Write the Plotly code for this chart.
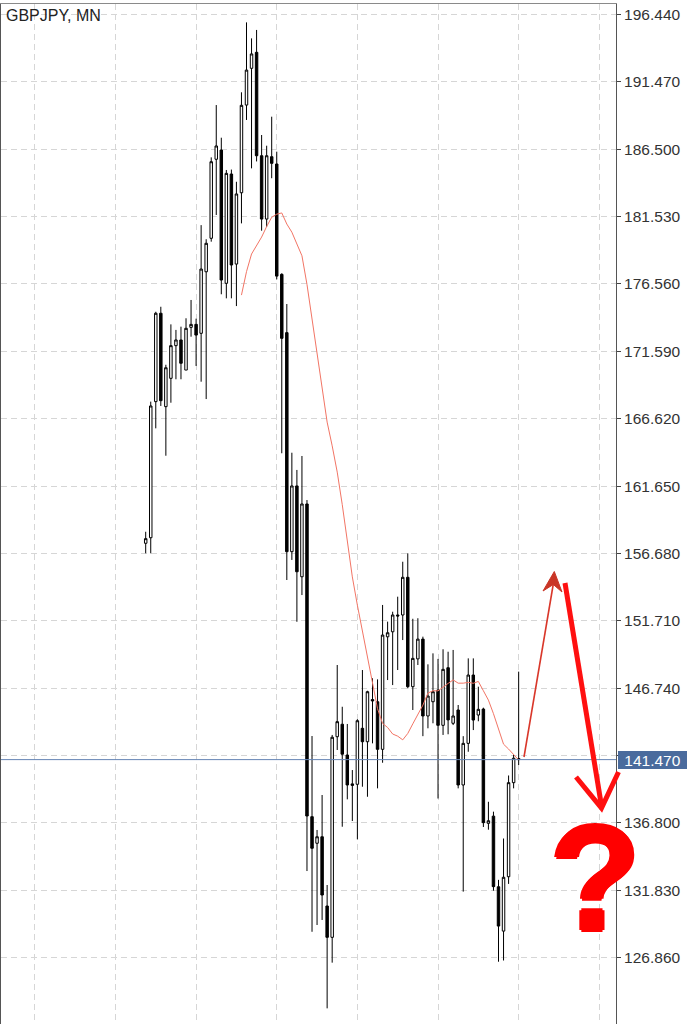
import plotly.graph_objects as go
import pandas as pd

# ---------------- data ----------------
symbol_title = "GBPJPY, MN"
months = [d.strftime("%Y-%m") for d in pd.date_range("2013-10-01", periods=75, freq="MS")]

opens = [157.43, 157.84, 167.88, 174.40, 167.51, 169.60, 172.01, 172.43, 170.21, 173.36,
         173.58, 172.92, 177.46, 179.93, 185.76, 186.44, 176.61, 184.67, 178.03, 183.29,
         189.76, 192.47, 193.65, 186.02, 181.35, 185.95, 185.41, 177.27, 172.97, 156.81,
         161.66, 154.96, 160.33, 137.26, 135.30, 135.78, 130.67, 128.36, 143.16, 144.08,
         141.81, 139.68, 139.65, 143.78, 142.79, 145.90, 145.74, 142.23, 150.53, 150.90,
         152.14, 152.14, 154.92, 146.85, 148.90, 150.36, 144.69, 145.74, 146.60, 144.00,
         148.25, 144.15, 145.13, 139.60, 142.67, 147.71, 144.76, 145.20, 136.77, 137.30,
         132.09, 128.82, 132.83, 139.77, 141.55]
highs = [158.28, 167.88, 174.51, 174.88, 170.60, 173.58, 173.17, 173.41, 174.03, 175.38,
         174.00, 180.90, 179.86, 185.90, 189.76, 187.35, 184.97, 185.00, 184.10, 190.70,
         195.86, 194.68, 195.30, 187.55, 186.76, 188.90, 186.32, 177.35, 175.08, 164.11,
         162.84, 163.87, 160.62, 143.21, 136.28, 138.86, 132.22, 143.29, 148.45, 145.37,
         144.10, 140.70, 144.45, 148.08, 146.55, 147.47, 147.39, 152.88, 151.65, 152.38,
         153.49, 156.07, 156.69, 151.86, 151.90, 150.54, 148.50, 149.31, 148.90, 149.61,
         149.43, 149.56, 145.50, 143.20, 148.94, 148.94, 146.85, 145.30, 138.36, 137.63,
         132.60, 135.65, 140.30, 141.81, 147.96]
lows = [156.69, 156.69, 165.91, 167.56, 163.89, 167.80, 169.53, 169.53, 170.21, 172.67,
        170.51, 169.35, 168.07, 179.68, 181.65, 175.80, 175.50, 175.50, 174.93, 181.03,
        188.66, 185.09, 185.60, 180.49, 180.78, 184.36, 176.90, 164.07, 154.72, 156.20,
        151.64, 153.61, 133.25, 128.77, 129.27, 129.64, 123.12, 126.49, 142.18, 136.52,
        138.54, 136.94, 135.59, 139.47, 138.73, 142.67, 139.35, 141.24, 147.34, 146.97,
        148.08, 150.29, 146.73, 145.13, 148.45, 143.20, 143.78, 144.15, 138.60, 143.29,
        143.34, 144.02, 139.35, 131.73, 142.05, 143.65, 144.30, 136.50, 136.30, 131.80,
        126.56, 126.65, 132.30, 139.35, 141.07]
closes = [157.77, 167.56, 174.40, 167.95, 170.38, 172.01, 172.43, 170.71, 173.29, 173.58,
          172.79, 177.66, 179.56, 185.58, 186.74, 176.85, 184.72, 177.96, 183.20, 189.74,
          192.34, 193.53, 186.02, 181.35, 186.02, 185.46, 177.14, 172.55, 156.81, 161.66,
          155.33, 160.33, 137.31, 134.93, 135.78, 131.48, 128.36, 143.12, 144.27, 141.87,
          139.60, 139.57, 144.34, 142.79, 146.48, 145.80, 142.23, 150.66, 150.83, 152.14,
          152.07, 154.92, 146.85, 148.94, 150.36, 144.69, 146.16, 146.48, 144.00, 148.13,
          144.40, 144.69, 139.60, 142.67, 147.71, 144.39, 145.18, 136.82, 136.96, 132.10,
          129.19, 132.79, 139.77, 141.57, 141.47]

# moving average line (from bar 19 on)
ma_start = 19
ma_values = [175.74, 177.47, 178.77, 179.35, 180.02, 180.80, 181.48, 181.71, 181.80, 180.98,
             180.38, 179.51, 178.64, 176.53, 174.00, 171.45, 169.18, 166.37, 164.62, 162.68,
             160.28, 157.65, 154.95, 152.86, 150.94, 148.96, 146.98, 145.23, 144.14, 143.84,
             143.36, 143.20, 142.93, 143.40, 144.11, 144.83, 145.49, 146.38, 146.55, 146.54,
             146.85, 147.09, 147.35, 147.11, 147.11, 147.17, 147.10, 147.24, 146.55, 145.86,
             144.86, 143.71, 142.61, 142.25, 141.88, 141.44]

current_price = 141.47
price_label = "141.470"
y_ticks = [196.44, 191.47, 186.50, 181.53, 176.56, 171.59, 166.62, 161.65, 156.68,
           151.71, 146.74, 141.77, 136.80, 131.83, 126.86]
y_ticktext = ["196.440", "191.470", "186.500", "181.530", "176.560", "171.590", "166.620",
              "161.650", "156.680", "151.710", "146.740", "", "136.800", "131.830", "126.860"]
x_grid_bars = [-22, -6, 10, 26, 42, 58, 74, 90]

# ---------------- layout helpers ----------------
W, H = 698, 1024
ML, MR, MT, MB = 1, 82, 4, 0
PW, PH = W - ML - MR, H - MT - MB


def P(px, py):
    return (px - ML) / PW, (H - MB - py) / PH


idx = list(range(len(closes)))

fig = go.Figure()
fig.add_trace(go.Candlestick(
    x=idx, open=opens, high=highs, low=lows, close=closes,
    customdata=months,
    increasing=dict(line=dict(color="#000000", width=1), fillcolor="#ffffff"),
    decreasing=dict(line=dict(color="#000000", width=1), fillcolor="#000000"),
    whiskerwidth=0, showlegend=False, hoverinfo="skip"))
fig.add_trace(go.Scatter(
    x=idx[ma_start:], y=ma_values, mode="lines",
    line=dict(color="#f27565", width=1), showlegend=False, hoverinfo="skip"))

shapes = []
# current price line
shapes.append(dict(type="line", xref="paper", yref="y", x0=0, x1=1,
                   y0=current_price, y1=current_price,
                   line=dict(color="#6584b4", width=1), layer="above"))

# thin red arrow (up)
x0, y0 = P(524, 757)
x1, y1 = P(553.3, 584)
shapes.append(dict(type="line", xref="paper", yref="paper", x0=x0, y0=y0, x1=x1, y1=y1,
                   line=dict(color="#d9372a", width=1.6)))
hp = [P(554.3, 571.5), P(543.0, 591.0), P(553.3, 584.5), P(562.0, 592.0)]
path = "M{},{} L{},{} L{},{} L{},{} Z".format(*[c for pt in hp for c in pt])
shapes.append(dict(type="path", xref="paper", yref="paper", path=path,
                   fillcolor="#c93526", line=dict(color="#c93526", width=1)))

# thick red arrow (down)
x0, y0 = P(565, 583)
x1, y1 = P(601.5, 806)
shapes.append(dict(type="line", xref="paper", yref="paper", x0=x0, y0=y0, x1=x1, y1=y1,
                   line=dict(color="#ff1010", width=5)))
vp = [P(576, 777), P(601.5, 808), P(618.5, 772)]
path = "M{},{} L{},{} L{},{}".format(*[c for pt in vp for c in pt])
shapes.append(dict(type="path", xref="paper", yref="paper", path=path,
                   line=dict(color="#ff1010", width=5)))

annotations = []
tx, ty = P(4, 5)
annotations.append(dict(text=symbol_title, xref="paper", yref="paper", x=tx, y=ty,
                        xanchor="left", yanchor="top", showarrow=False,
                        font=dict(family="Liberation Sans, Arial", size=16, color="#222222")))
annotations.append(dict(text=price_label, xref="paper", yref="y", x=1, y=current_price,
                        xanchor="left", yanchor="middle", xshift=2, showarrow=False,
                        width=69, height=18, borderpad=0, borderwidth=0,
                        bgcolor="#4a6b9d",
                        font=dict(family="Liberation Sans, Arial", size=15.5, color="#ffffff")))
qx, qy = P(595, 878)
annotations.append(dict(text="<b>?</b>", xref="paper", yref="paper", x=qx, y=qy,
                        xanchor="center", yanchor="middle", showarrow=False,
                        width=84, height=116, borderpad=0, borderwidth=0,
                        font=dict(family="Liberation Sans, Arial", size=150, color="#ff0000",
                                  shadow="2px 0 0 #ff0000, -2px 0 0 #ff0000, 0 2px 0 #ff0000, 0 -2px 0 #ff0000")))

x_left = (ML - 145.7) / 5.04
x_right = (ML + PW - 145.7) / 5.04
y_top = 196.44 + (14.5 - MT) / 13.555
y_bot = 196.44 - (H - MB - 14.5) / 13.555

fig.update_layout(
    width=W, height=H, margin=dict(l=ML, r=MR, t=MT, b=MB, pad=0),
    paper_bgcolor="#ffffff", plot_bgcolor="#ffffff",
    shapes=shapes, annotations=annotations, showlegend=False,
    xaxis=dict(range=[x_left, x_right], tickvals=x_grid_bars, showticklabels=False,
               ticks="", showgrid=True, gridcolor="#d6d6d6", griddash="6px,4px", gridwidth=1,
               showline=True, mirror=True, linecolor="#8a8a8a", linewidth=1,
               zeroline=False, rangeslider=dict(visible=False), fixedrange=True,
               automargin=False),
    yaxis=dict(range=[y_bot, y_top], side="right", tickvals=y_ticks, ticktext=y_ticktext,
               ticks="outside", ticklen=4, tickcolor="#444444", tickwidth=1,
               showgrid=True, gridcolor="#d6d6d6", griddash="6px,4px", gridwidth=1,
               showline=True, mirror=True, linecolor="#555555", linewidth=1,
               zeroline=False, fixedrange=True, automargin=False,
               tickfont=dict(family="Liberation Sans, Arial", size=15.5, color="#333333")),
)

fig.write_html("out.html", config={"displayModeBar": False},
               post_script="document.body.style.margin='0px';document.body.style.overflow='hidden';")
